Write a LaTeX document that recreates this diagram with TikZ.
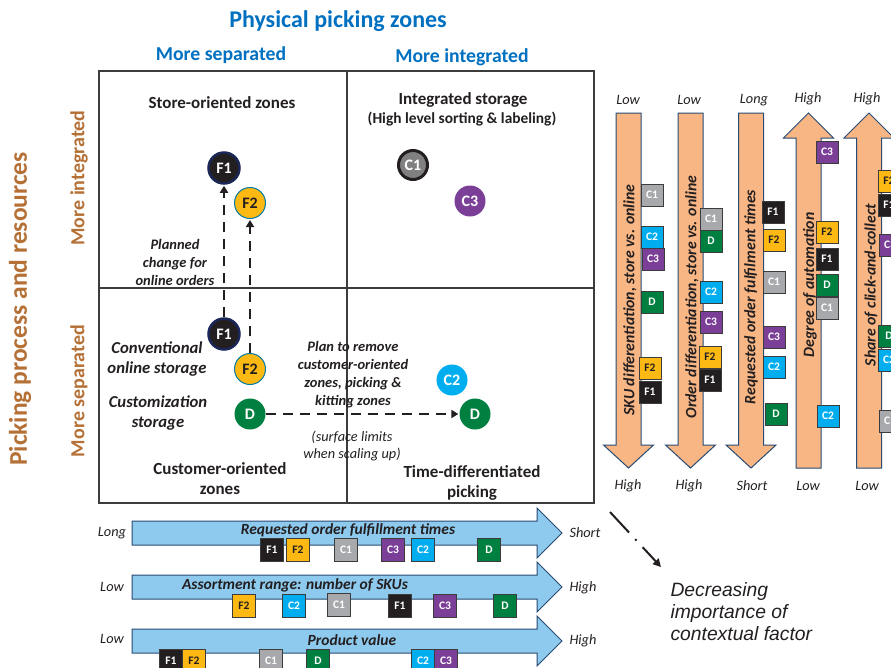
\documentclass[tikz,border=0pt]{standalone}
\usepackage{fontspec}
\setmainfont{Carlito}
\newfontfamily\arialfont{Liberation Sans}
\usetikzlibrary{arrows.meta}

\definecolor{txt}{RGB}{35,31,32}
\definecolor{ttlblue}{RGB}{0,112,192}
\definecolor{axbrown}{RGB}{181,112,54}
\definecolor{ofill}{RGB}{248,182,132}
\definecolor{bfill}{RGB}{142,201,238}
\definecolor{aborder}{RGB}{40,75,115}
\definecolor{colFone}{RGB}{35,31,32}
\definecolor{colFtwo}{RGB}{253,185,19}
\definecolor{colCone}{RGB}{167,169,172}
\definecolor{colConeC}{RGB}{128,128,128}
\definecolor{colCtwo}{RGB}{0,174,239}
\definecolor{colCthree}{RGB}{123,63,152}
\definecolor{colD}{RGB}{0,128,64}
\definecolor{navy}{RGB}{27,38,89}
\definecolor{gridc}{RGB}{60,60,60}

\newcommand\setfs[2]{\fontsize{#1}{#2}\selectfont}

\tikzset{
  quadlbl/.style={font=\bfseries\setfs{17}{20}, text=txt, align=center},
  sidelbl/.style={font=\bfseries\itshape\setfs{16.7}{20}, text=txt, align=center},
  notelbl/.style={font=\bfseries\itshape\setfs{14.5}{18}, text=txt, align=center},
  smalllbl/.style={font=\itshape\setfs{14.3}{17}, text=txt, align=center},
  endlbl/.style={font=\itshape\setfs{14.3}{16}, text=txt},
  vlbl/.style={font=\bfseries\itshape\setfs{15.8}{16}, text=txt, rotate=90},
  hlbl/.style={font=\bfseries\itshape\setfs{15.5}{16}, text=txt},
  circ/.style={circle, minimum size=31pt, inner sep=0pt, font=\bfseries\setfs{16}{16}, text=white},
  sq/.style={rectangle, minimum width=22pt, minimum height=22pt, inner sep=0pt,
             draw=gridc, line width=0.9pt, font=\bfseries\setfs{11.5}{12}, text=white},
  sqF1/.style={sq, fill=colFone},
  sqF2/.style={sq, fill=colFtwo, text=txt},
  sqC1/.style={sq, fill=colCone},
  sqC2/.style={sq, fill=colCtwo},
  sqC3/.style={sq, fill=colCthree},
  sqD/.style={sq, fill=colD},
  orangearrow/.style={fill=ofill, draw=aborder, line width=1pt, line join=miter},
  bluearrow/.style={fill=bfill, draw=aborder, line width=1pt, line join=miter},
  planarrow/.style={line width=2.6pt, color=txt, dash pattern=on 10pt off 7pt,
                    -{Triangle[length=7pt,width=8pt]}, shorten >=1pt},
}

% vertical arrows on the right: #1 = centre x
\newcommand\orangedown[1]{%
  \draw[orangearrow] (#1-12.5,113) -- (#1+12.5,113) -- (#1+12.5,445) -- (#1+25,445)
     -- (#1,468) -- (#1-25,445) -- (#1-12.5,445) -- cycle;}
\newcommand\orangeup[1]{%
  \draw[orangearrow] (#1-12.5,468) -- (#1+12.5,468) -- (#1+12.5,138) -- (#1+25,138)
     -- (#1,113) -- (#1-25,138) -- (#1-12.5,138) -- cycle;}
% horizontal arrows at the bottom: #1 = centre y
\newcommand\bluerightarrow[1]{%
  \draw[bluearrow] (132,#1-12) -- (537,#1-12) -- (537,#1-25) -- (562,#1)
     -- (537,#1+25) -- (537,#1+12) -- (132,#1+12) -- cycle;}

\begin{document}
\begin{tikzpicture}[x=1pt,y=-1pt]
\clip (0,0) rectangle (891,667);

% ---------- headings ----------
\node[font=\bfseries\setfs{24}{26}, text=ttlblue] (ttl) at (338,21) {Physical picking zones};
\node[font=\bfseries\setfs{19.7}{22}, text=ttlblue] (hsep) at (221,55) {More separated};
\node[font=\bfseries\setfs{19.7}{22}, text=ttlblue] (hint) at (462,57) {More integrated};

\node[font=\bfseries\setfs{25.5}{27}, text=axbrown, rotate=90] (vttl) at (20,309) {Picking process and resources};
\node[font=\bfseries\setfs{20}{22}, text=axbrown, rotate=90] (vint) at (79,178) {More integrated};
\node[font=\bfseries\setfs{20}{22}, text=axbrown, rotate=90] (vsep) at (79,391) {More separated};

% ---------- 2x2 matrix ----------
\draw[gridc, line width=1.2pt] (99,71) rectangle (594,503);
\draw[gridc, line width=1.2pt] (347,71) -- (347,503);
\draw[gridc, line width=1.2pt] (99,288) -- (594,288);

\node[quadlbl] (q1) at (222,103) {Store-oriented zones};
\node[quadlbl] (q2a) at (463,100) {Integrated storage};
\node[font=\bfseries\setfs{15.4}{16}, text=txt] (q2b) at (462,119) {(High level sorting \& labeling)};
\node[quadlbl] (q3) at (220,479) {Customer-oriented\\zones};
\node[quadlbl] (q4) at (472,483) {Time-differentiated\\picking};

\node[notelbl] (nplan) at (175,262) {Planned\\change for\\online orders};
\node[sidelbl] (nconv) at (157,359) {Conventional\\online storage};
\node[sidelbl] (ncust) at (158,413) {Customization\\storage};
\node[notelbl] (nrem) at (353,375) {Plan to remove\\customer-oriented\\zones, picking \&\\kitting zones};
\node[smalllbl] (nsurf) at (352,446) {(surface limits\\when scaling up)};

% circles
\node[circ, fill=colFone, draw=navy, line width=2.5pt] (f1up) at (224,168) {F1};
\node[circ, fill=colFtwo, draw=colCtwo!70!black, line width=1pt, text=txt] (f2up) at (250,203) {F2};
\node[circ, fill=colFone, draw=navy, line width=2.5pt] (f1low) at (224,334) {F1};
\node[circ, fill=colFtwo, draw=colCtwo!70!black, line width=1pt, text=txt] (f2low) at (250,369) {F2};
\node[circ, fill=colD] (dlow) at (250,414) {D};
\node[circ, fill=colConeC, draw=txt, line width=3pt, minimum size=29pt] (c1c) at (413,165) {C1};
\node[circ, fill=colCthree] (c3c) at (470,201) {C3};
\node[circ, fill=colCtwo] (c2c) at (452,380) {C2};
\node[circ, fill=colD] (dright) at (475,414) {D};

% planned changes
\draw[planarrow] (f1low) -- (f1up);
\draw[planarrow] (f2low) -- (f2up);
\draw[planarrow] (dlow) -- (dright);

% ---------- vertical factor arrows ----------
\orangedown{628.5}
\orangedown{690.5}
\orangedown{751}
\orangeup{808.5}
\orangeup{869}

\node[vlbl] (va) at (630,300) {SKU differentiation, store vs. online};
\node[vlbl] (vb) at (692,297) {Order differentiation, store vs. online};
\node[vlbl] (vc) at (751,297) {Requested order fulfilment times};
\node[vlbl] (vd) at (810,285) {Degree of automation};
\node[vlbl] (ve) at (871,285) {Share of click-and-collect};

\node[endlbl] (ta) at (628,100) {Low};   \node[endlbl] (ba) at (628,486) {High};
\node[endlbl] (tb) at (689,100) {Low};   \node[endlbl] (bb) at (689,486) {High};
\node[endlbl] (tc) at (754,100) {Long};  \node[endlbl] (bc) at (752,486) {Short};
\node[endlbl] (td) at (808,99) {High};   \node[endlbl] (bd) at (808,486) {Low};
\node[endlbl] (te) at (867,99) {High};   \node[endlbl] (be) at (867,486) {Low};

% squares on arrow 1
\node[sqC1] (a1c1) at (652,195) {C1};
\node[sqC2] (a1c2) at (652,237) {C2};
\node[sqC3] (a1c3) at (653,259) {C3};
\node[sqD]  (a1d)  at (652,302) {D};
\node[sqF2] (a1f2) at (650,368) {F2};
\node[sqF1] (a1f1) at (650,392) {F1};
% squares on arrow 2
\node[sqC1] (a2c1) at (711,219) {C1};
\node[sqD]  (a2d)  at (711,241) {D};
\node[sqC2] (a2c2) at (711,292) {C2};
\node[sqC3] (a2c3) at (711,322) {C3};
\node[sqF2] (a2f2) at (710,357) {F2};
\node[sqF1] (a2f1) at (710,380) {F1};
% squares on arrow 3
\node[sqF1] (a3f1) at (773,212) {F1};
\node[sqF2] (a3f2) at (774,240) {F2};
\node[sqC1] (a3c1) at (774,282) {C1};
\node[sqC3] (a3c3) at (774,337) {C3};
\node[sqC2] (a3c2) at (774,367) {C2};
\node[sqD]  (a3d)  at (776,414) {D};
% squares on arrow 4
\node[sqC3] (a4c3) at (827,152) {C3};
\node[sqF2] (a4f2) at (827,232) {F2};
\node[sqF1] (a4f1) at (827,259) {F1};
\node[sqC1] (a4c1) at (827,308) {C1};
\node[sqD]  (a4d)  at (827,285) {D};
\node[sqC2] (a4c2) at (828,416) {C2};
% squares on arrow 5
\node[sqF2] (a5f2) at (889,181) {F2};
\node[sqF1] (a5f1) at (889,205) {F1};
\node[sqC3] (a5c3) at (890,245) {C3};
\node[sqD]  (a5d)  at (889,336) {D};
\node[sqC2] (a5c2) at (889,360) {C2};
\node[sqC1] (a5c1) at (890,421) {C1};

% ---------- horizontal factor arrows ----------
\bluerightarrow{533}
\bluerightarrow{587}
\bluerightarrow{641}

\node[hlbl] (ha) at (348,530) {Requested order fulfillment times};
\node[hlbl] (hb) at (295,585) {Assortment range: number of SKUs};
\node[hlbl] (hc) at (352,640) {Product value};

\node[endlbl] (la) at (112,533) {Long};  \node[endlbl, anchor=west] (ra) at (566,533) {Short};
\node[endlbl] (lb) at (112,587) {Low};   \node[endlbl, anchor=west] (rb) at (566,588) {High};
\node[endlbl] (lc) at (112,639) {Low};   \node[endlbl, anchor=west] (rc) at (566,641) {High};

\tikzset{sq/.append style={minimum width=23pt, minimum height=23pt}}
% squares on arrow A
\node[sqF1] (h1f1) at (272,550) {F1};
\node[sqF2] (h1f2) at (298,550) {F2};
\node[sqC1] (h1c1) at (346,550) {C1};
\node[sqC3] (h1c3) at (393,550) {C3};
\node[sqC2] (h1c2) at (423,550) {C2};
\node[sqD]  (h1d)  at (489,550) {D};
% squares on arrow B
\node[sqF2] (h2f2) at (244,606) {F2};
\node[sqC2] (h2c2) at (294,606) {C2};
\node[sqC1] (h2c1) at (339,605) {C1};
\node[sqF1] (h2f1) at (400,606) {F1};
\node[sqC3] (h2c3) at (445,606) {C3};
\node[sqD]  (h2d)  at (505,606) {D};
% squares on arrow C
\node[sqF1] (h3f1) at (171,661) {F1};
\node[sqF2] (h3f2) at (194,661) {F2};
\node[sqC1] (h3c1) at (271,661) {C1};
\node[sqD]  (h3d)  at (318,661) {D};
\node[sqC2] (h3c2) at (423,661) {C2};
\node[sqC3] (h3c3) at (446,661) {C3};

% ---------- importance note ----------
\coordinate (imstart) at (610,512);
\coordinate (imend) at (661,567);
\draw[line width=2pt, color=txt, dash pattern=on 28pt off 9pt on 2pt off 9pt,
      -{Triangle[length=8pt,width=8pt]}] (imstart) -- (imend);
\node[font=\arialfont\itshape\setfs{19.3}{22}, text=txt, align=left, anchor=north west]
  (imp) at (667,579) {Decreasing\\importance of\\contextual factor};

\end{tikzpicture}
\end{document}
